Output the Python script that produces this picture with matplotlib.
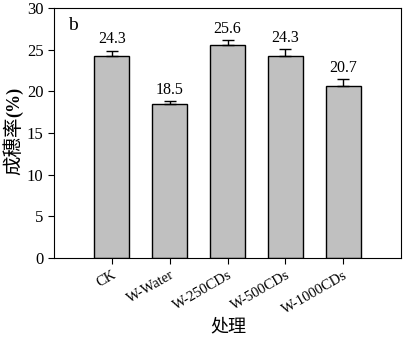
import numpy as np
import matplotlib.pyplot as plt

plt.rcParams['font.family'] = ['Liberation Serif', 'Noto Sans CJK SC']

groups = ["CK", "W-Water", "W-250CDs", "W-500CDs", "W-1000CDs"]
values = [24.3, 18.5, 25.6, 24.3, 20.7]
errors = [0.6, 0.35, 0.55, 0.8, 0.75]

fig = plt.figure(figsize=(4.06, 3.42), dpi=100)
ax = fig.add_axes([0.133, 0.2456, 0.855, 0.731])
x = np.arange(len(groups))
ax.bar(x, values, width=0.6, color="#c0c0c0", edgecolor="black", linewidth=1.0)
ax.errorbar(x, values, yerr=[np.zeros(len(errors)), errors], fmt="none",
            ecolor="black", elinewidth=1.0, capsize=4, capthick=1.0)
for xi, v, e in zip(x, values, errors):
    ax.text(xi, v + e + 0.4, f"{v}", ha="center", va="bottom", fontsize=11.5)

ax.set_xlim(-1, 5)
ax.set_ylim(0, 30)
ax.set_yticks(range(0, 31, 5))
ax.set_xticks(x)
ax.set_xticklabels(groups, rotation=30, ha="right", rotation_mode="anchor", fontsize=10.5)
ax.tick_params(axis="y", labelsize=12)
ax.tick_params(direction="out", length=4)

# y label: chinese part regular, (%) bold
fig.text(0.035, 0.658, "成穗率", rotation=90, ha="center", va="top", fontsize=14)
fig.text(0.035, 0.658, "(%)", rotation=90, ha="center", va="bottom", fontsize=13,
         fontweight="bold")
fig.text(0.563, 0.045, "处理", ha="center", va="center", fontsize=13)
ax.text(0.04, 0.93, "b", transform=ax.transAxes, fontsize=14, va="center")

fig.savefig("out.png")
